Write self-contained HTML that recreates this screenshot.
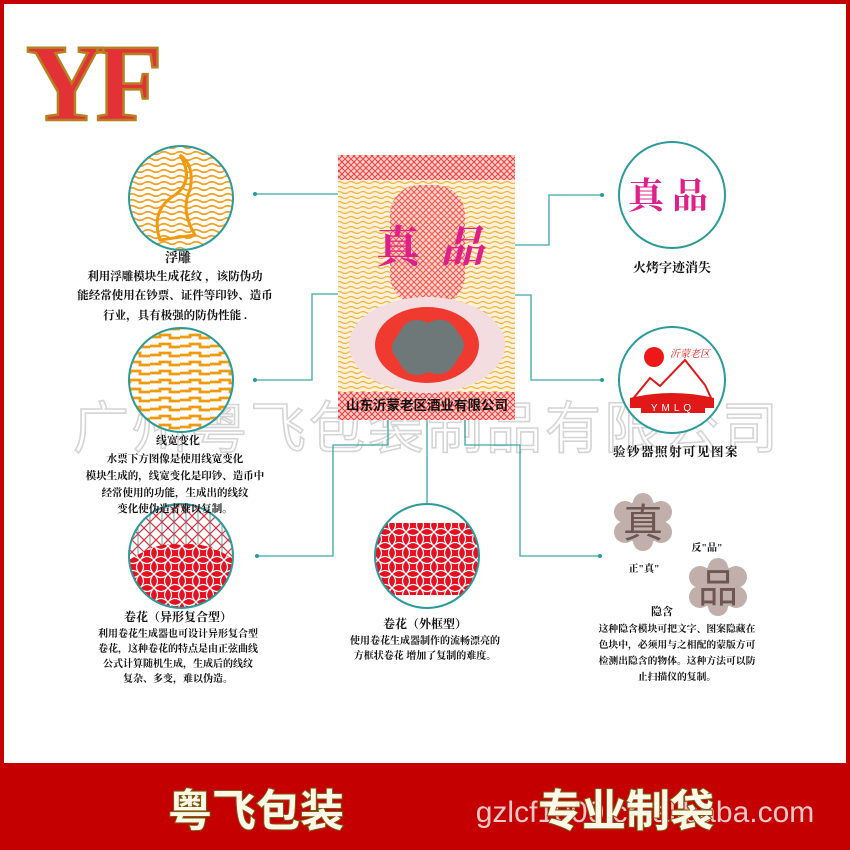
<!DOCTYPE html>
<html><head><meta charset="utf-8"><style>
html,body{margin:0;padding:0;background:#fff}
svg{display:block}
text{font-family:"Liberation Serif","Noto Serif CJK SC","Noto Sans CJK SC",serif}
.s{font-family:"Liberation Sans","Noto Sans CJK SC",sans-serif}
</style></head><body>
<svg width="850" height="850" viewBox="0 0 850 850" xmlns="http://www.w3.org/2000/svg">
<defs>
<pattern id="wav" width="12" height="5" patternUnits="userSpaceOnUse">
<rect width="12" height="5" fill="#fdf0d8"/>
<path d="M0 2.5 Q3 0.5 6 2.5 T12 2.5" stroke="#f0b540" stroke-width="1.3" fill="none"/>
</pattern>
<pattern id="wav2" width="16" height="6" patternUnits="userSpaceOnUse">
<rect width="16" height="6" fill="#fff"/>
<path d="M0 3 Q4 0.5 8 3 T16 3" stroke="#f0a020" stroke-width="1.8" fill="none"/>
</pattern>
<pattern id="wav3" width="30" height="9" patternUnits="userSpaceOnUse">
<rect width="30" height="9" fill="#fff"/>
<path d="M0 4 L10 4 L10 2 L20 2 L20 5 L30 5" stroke="#f09a10" stroke-width="2.8" fill="none"/>
</pattern>
<pattern id="net" width="14" height="14" patternUnits="userSpaceOnUse">
<rect width="14" height="14" fill="#e51020"/>
<path d="M0 0 Q7 7 14 0 M0 14 Q7 7 14 14 M0 0 Q7 7 0 14 M14 0 Q7 7 14 14" stroke="#fff" stroke-width="1.2" fill="none"/>
</pattern>
<pattern id="net2" width="12" height="12" patternUnits="userSpaceOnUse">
<rect width="12" height="12" fill="#fff"/>
<path d="M0 0 L12 12 M12 0 L0 12" stroke="#e03040" stroke-width="1.2"/>
<path d="M6 0 L6 12" stroke="#2a9a9a" stroke-width="0.8"/>
</pattern>
<pattern id="red" width="6" height="6" patternUnits="userSpaceOnUse">
<rect width="6" height="6" fill="#fbd0cc"/>
<path d="M0 0 L6 6 M6 0 L0 6" stroke="#ec4040" stroke-width="1"/>
</pattern>
<clipPath id="c1"><circle cx="181" cy="198" r="52"/></clipPath>
<clipPath id="c2"><circle cx="181" cy="380" r="52"/></clipPath>
<clipPath id="c3"><circle cx="181" cy="556" r="52"/></clipPath>
<clipPath id="c4"><circle cx="427" cy="556" r="52"/></clipPath>
</defs>

<rect x="0" y="0" width="850" height="850" fill="#c40000"/>
<rect x="4" y="4" width="842" height="759" fill="#fff"/>

<text x="26" y="120" font-size="110" font-weight="bold" fill="#e23236" stroke="#b58020" stroke-width="2.5" letter-spacing="-10">YF</text>

<text x="427" y="448" text-anchor="middle" class="s" font-size="56" fill="#fff" stroke="#d4d4d4" stroke-width="1.6" letter-spacing="3">广州粤飞包装制品有限公司</text>

<g stroke="#3aa6a6" stroke-width="1.3" fill="none">
<path d="M255 194 H350"/>
<path d="M255 380 H312 V294 H360"/>
<path d="M257 556 H333 V445 H388 V410"/>
<path d="M427 410 V503"/>
<path d="M465 370 V445 H520 V556 H600"/>
<path d="M470 245 H549 V195 H602"/>
<path d="M465 295 H531 V380 H602"/>
</g>
<g fill="#2a9a9a">
<circle cx="255" cy="194" r="2"/><circle cx="255" cy="380" r="2"/><circle cx="257" cy="556" r="2"/>
<circle cx="600" cy="556" r="2"/><circle cx="602" cy="195" r="2"/><circle cx="602" cy="380" r="2"/>
</g>

<rect x="338" y="155" width="177" height="265" fill="url(#wav)"/>
<rect x="338" y="155" width="177" height="25" fill="url(#red)"/>
<rect x="338" y="392" width="177" height="28" fill="url(#red)"/>
<rect x="390" y="185" width="75" height="120" rx="30" fill="url(#red)" opacity="0.85"/>
<ellipse cx="427" cy="345" rx="78" ry="48" fill="#f3dde0"/>
<ellipse cx="427" cy="345" rx="52" ry="38" fill="#f03a30"/>
<path d="M398 335 q10-22 30-12 q20-10 30 10 q12 12 0 25 q-10 22-30 14 q-20 10-30-12 q-12-12 0-25z" fill="#6e7878"/>
<text x="376" y="262" font-size="44" font-weight="bold" fill="#e0208a">真</text>
<text x="440" y="262" font-size="44" font-weight="bold" font-style="italic" fill="#e0208a">品</text>
<text x="427" y="410" text-anchor="middle" class="s" font-size="13.5" font-weight="bold" fill="#111">山东沂蒙老区酒业有限公司</text>

<g clip-path="url(#c1)"><rect x="120" y="140" width="130" height="120" fill="url(#wav2)"/>
<path d="M160 240 q-10-30 15-45 q20-15 5-40 q15 10 10 35 q-10 20 5 45z" fill="none" stroke="#f09a10" stroke-width="3"/></g>
<circle cx="181" cy="198" r="52" fill="none" stroke="#2a9a9a" stroke-width="2"/>
<g clip-path="url(#c2)"><rect x="120" y="320" width="130" height="120" fill="url(#wav3)"/></g>
<circle cx="181" cy="380" r="52" fill="none" stroke="#2a9a9a" stroke-width="2"/>
<g clip-path="url(#c3)"><rect x="120" y="500" width="130" height="120" fill="url(#net2)"/>
<path d="M129 560 Q160 540 181 545 Q205 540 235 560 V612 H129z" fill="url(#net)"/></g>
<circle cx="181" cy="556" r="52" fill="none" stroke="#2a9a9a" stroke-width="2"/>
<g clip-path="url(#c4)"><rect x="370" y="523" width="115" height="72" fill="url(#net)"/></g>
<circle cx="427" cy="556" r="52" fill="none" stroke="#2a9a9a" stroke-width="2"/>

<circle cx="672" cy="195" r="53" fill="#fff" stroke="#2a9a9a" stroke-width="2"/>
<text x="672" y="208" text-anchor="middle" font-size="36" font-weight="bold" fill="#e0208a" letter-spacing="8">真品</text>
<circle cx="672" cy="380" r="53" fill="#fff" stroke="#2a9a9a" stroke-width="2"/>
<circle cx="654" cy="357" r="10" fill="#ee1818"/>
<path d="M632 400 L650 378 L660 386 L685 360 L705 385 L712 400z" fill="none" stroke="#e01818" stroke-width="2"/>
<path d="M630 398 Q672 388 714 398 V408 H630z" fill="#e01818"/>
<rect x="641" y="401" width="64" height="12" fill="#e01818"/>
<text x="673" y="411" text-anchor="middle" class="s" font-size="10" fill="#fff" letter-spacing="4">YMLQ</text>
<text x="690" y="357" text-anchor="middle" font-size="10" fill="#e01818" font-style="italic">沂蒙老区</text>

<g fill="#c0afaa">
<circle cx="643" cy="522" r="22"/><circle cx="625" cy="512" r="11"/><circle cx="661" cy="512" r="11"/><circle cx="625" cy="532" r="11"/><circle cx="661" cy="532" r="11"/><circle cx="643" cy="503" r="10"/><circle cx="643" cy="541" r="10"/>
<circle cx="718" cy="587" r="22"/><circle cx="700" cy="577" r="11"/><circle cx="736" cy="577" r="11"/><circle cx="700" cy="597" r="11"/><circle cx="736" cy="597" r="11"/><circle cx="718" cy="568" r="10"/><circle cx="718" cy="606" r="10"/>
</g>
<text x="643" y="537" text-anchor="middle" class="s" font-size="40" fill="#6e5652">真</text>
<text x="718" y="602" text-anchor="middle" class="s" font-size="40" fill="#6e5652">品</text>

<g font-weight="bold" fill="#111" text-anchor="middle">
<text x="178" y="262" font-size="13">浮雕</text>
<g font-size="11.5"><text x="175" y="280">利用浮雕模块生成花纹 ，该防伪功</text>
<text x="175" y="299">能经常使用在钞票、证件等印钞、造币</text>
<text x="175" y="319">行业，具有极强的防伪性能 .</text></g>
<text x="178" y="444" font-size="11">线宽变化</text>
<g font-size="10.5"><text x="175" y="462">水票下方图像是使用线宽变化</text>
<text x="175" y="479">模块生成的，线宽变化是印钞、造币中</text>
<text x="175" y="496">经常使用的功能，生成出的线纹</text>
<text x="175" y="504" dy="8">变化使伪造者难以复制。</text></g>
<text x="178" y="621" font-size="12">卷花（异形复合型）</text>
<g font-size="10"><text x="178" y="637">利用卷花生成器也可设计异形复合型</text>
<text x="178" y="652">卷花，这种卷花的特点是由正弦曲线</text>
<text x="178" y="667">公式计算随机生成，生成后的线纹</text>
<text x="178" y="682">复杂、多变，难以伪造。</text></g>
<text x="425" y="628" font-size="12">卷花（外框型）</text>
<g font-size="10"><text x="425" y="644">使用卷花生成器制作的流畅漂亮的</text>
<text x="425" y="659">方框状卷花 增加了复制的难度。</text></g>
<text x="672" y="272" font-size="13">火烤字迹消失</text>
<text x="676" y="456" font-size="12.5" letter-spacing="1.5">验钞器照射可见图案</text>
<text x="707" y="551" font-size="10">反"品"</text>
<text x="644" y="572" font-size="10">正"真"</text>
<text x="662" y="615" font-size="11">隐含</text>
<g font-size="9.8"><text x="677" y="632">这种隐含模块可把文字、图案隐藏在</text>
<text x="677" y="648">色块中，必须用与之相配的蒙版方可</text>
<text x="677" y="664">检测出隐含的物体。这种方法可以防</text>
<text x="677" y="680">止扫描仪的复制。</text></g>
</g>

<text x="256" y="826" text-anchor="middle" class="s" font-size="44" font-weight="bold" fill="#fff8e8" stroke="#7a5a10" stroke-width="2" paint-order="stroke">粤飞包装</text>
<text x="645" y="822" text-anchor="middle" class="s" font-size="30" fill="#f4c8c8">gzlcf1000.cn.alibaba.com</text>
<text x="626" y="826" text-anchor="middle" class="s" font-size="44" font-weight="bold" fill="#fff8e8" stroke="#7a5a10" stroke-width="2" paint-order="stroke">专业制袋</text>
</svg>
</body></html>
